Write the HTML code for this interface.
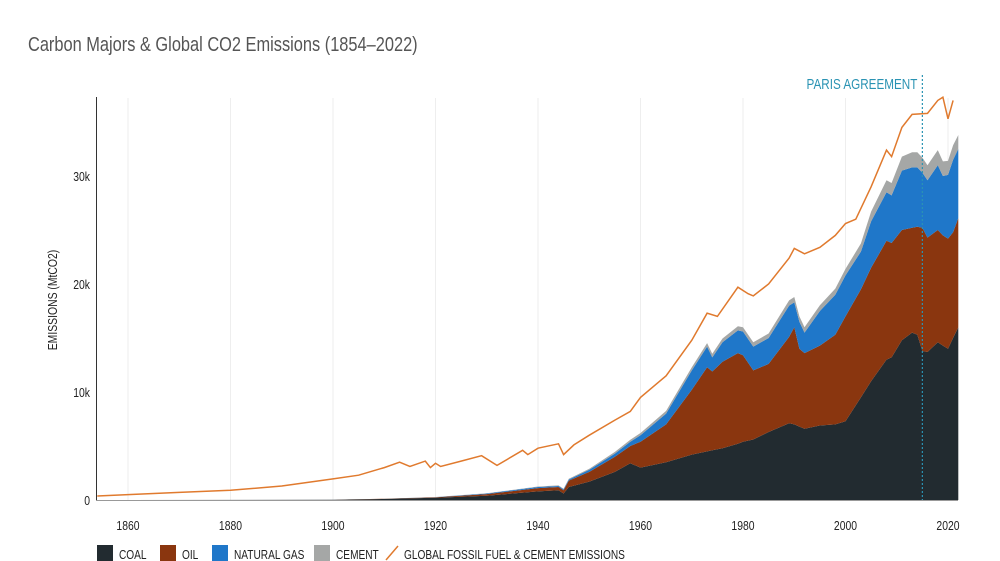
<!DOCTYPE html>
<html><head><meta charset="utf-8"><style>
body{margin:0;background:#fff;}
svg{display:block;font-family:"Liberation Sans",sans-serif;}
</style></head><body>
<svg id="chart" width="1000" height="561" viewBox="0 0 1000 561">
<text x="28" y="51" font-size="20" fill="#555" transform="translate(28,0) scale(0.82,1) translate(-28,0)">Carbon Majors &amp; Global CO2 Emissions (1854–2022)</text>
<g id="grid"></g><g id="areas"></g><g id="lines"></g><g id="axes"></g><g id="legend"></g>
</svg>
<script>
const years=[1854,1900,1910,1920,1930,1940,1944,1945,1946,1950,1955,1958,1960,1965,1970,1973,1974,1976,1979,1980,1982,1985,1989,1990,1991,1992,1995,1998,2000,2003,2005,2008,2009,2011,2013,2014,2015,2016,2018,2019,2020,2021,2022];
const coal=[0,.02,.1,.2,.4,.8,.9,.6,1.2,1.7,2.6,3.4,3.0,3.5,4.2,4.5,4.6,4.8,5.2,5.4,5.6,6.3,7.1,7.0,6.8,6.6,6.9,7.0,7.3,9.5,11.0,13.0,13.2,14.8,15.5,15.3,13.8,13.7,14.6,14.3,14.0,15.0,16.0];
const oil=[0,0,.02,.05,.15,.3,.3,.3,.6,.9,1.4,1.6,2.4,3.5,6.0,7.8,7.3,8.0,8.4,8.0,6.4,6.3,8.0,9.0,7.2,7.0,7.4,8.3,9.7,10.0,10.5,11.0,10.6,10.2,9.7,10.0,11.4,10.6,10.4,10.2,10.2,9.8,10.1];
const gas=[0,0,0,.02,.05,.1,.1,.1,.1,.2,.3,.4,.6,1.0,1.8,1.9,1.3,1.8,2.1,2.2,2.2,2.4,2.9,2.3,2.5,1.9,3.2,3.7,3.8,3.5,4.3,4.5,4.4,5.5,5.6,5.5,5.1,5.3,6.0,5.5,5.9,6.7,6.4];
const cement=[0,0,0,.01,.02,.05,.05,.05,.06,.1,.15,.18,.2,.25,.3,.33,.34,.35,.38,.4,.4,.42,.48,.5,.5,.5,.53,.57,.6,.75,.9,1.1,1.15,1.3,1.4,1.4,1.4,1.4,1.4,1.35,1.3,1.35,1.3];
const globalYears=[1854,1860,1870,1880,1890,1900,1905,1910,1913,1915,1918,1919,1920,1921,1925,1929,1932,1937,1938,1940,1944,1945,1947,1950,1955,1958,1960,1965,1970,1973,1975,1979,1981,1982,1985,1989,1990,1992,1995,1998,2000,2002,2005,2008,2009,2011,2013,2016,2018,2019,2020,2021];
const globalVals=[.37,.5,.7,.9,1.3,1.95,2.3,3.0,3.5,3.1,3.6,3.0,3.4,3.1,3.6,4.1,3.2,4.6,4.2,4.8,5.2,4.2,5.1,6.0,7.4,8.2,9.5,11.5,14.8,17.3,17.0,19.7,19.1,18.9,20.0,22.4,23.3,22.8,23.4,24.5,25.6,26.0,29.0,32.4,31.8,34.5,35.7,35.8,37.0,37.3,35.3,37.0];
const xTicks=[1860,1880,1900,1920,1940,1960,1980,2000,2020];
const yTicks=[0,10,20,30];
const yTickLabels=["0","10k","20k","30k"];
const parisYear=2015;
const NS="http://www.w3.org/2000/svg";
const X=y=>128+(y-1860)*5.125, Y=v=>500-v*10.8;
function mk(tag,attrs,parent){const e=document.createElementNS(NS,tag);for(const k in attrs)e.setAttribute(k,attrs[k]);parent.appendChild(e);return e;}
const grid=document.getElementById('grid'),areas=document.getElementById('areas'),lines=document.getElementById('lines'),axes=document.getElementById('axes'),legend=document.getElementById('legend');
xTicks.forEach(t=>{const l=mk('line',{x1:X(t),x2:X(t),y1:98,y2:500,stroke:'#eee','stroke-width':1},grid);

const tx=mk('text',{x:X(t),y:530,'text-anchor':'middle','font-size':13,fill:'#222',transform:`translate(${X(t)},0) scale(0.8,1) translate(${-X(t)},0)`},axes);tx.textContent=t;
});
yTicks.forEach((t,i)=>{const tx=mk('text',{x:90,y:Y(t)+5,'text-anchor':'end','font-size':13,fill:'#222',transform:`translate(90,0) scale(0.8,1) translate(-90,0)`},axes);tx.textContent=yTickLabels[i];
});
const yt=mk('text',{x:0,y:0,'text-anchor':'middle','font-size':13,fill:'#222',transform:'translate(57,300) rotate(-90) scale(0.8,1)'},axes);yt.textContent='EMISSIONS (MtCO2)';

const series=[coal,oil,gas,cement],colors=['#222b30','#8a360f','#1f77c9','#a5a7a6'],names=['coal-area','oil-area','natural-gas-area','cement-area'];
let base=years.map(()=>0);
series.forEach((s,k)=>{const top=base.map((b,i)=>b+s[i]);
let d='M'+years.map((y,i)=>X(y).toFixed(1)+','+Y(top[i]).toFixed(1)).join('L');
for(let i=years.length-1;i>=0;i--)d+='L'+X(years[i]).toFixed(1)+','+Y(base[i]).toFixed(1);
const p=mk('path',{d:d+'Z',fill:colors[k]},areas);
base=top;});
const gl=mk('path',{d:'M'+globalYears.map((y,i)=>X(y).toFixed(1)+','+Y(globalVals[i]).toFixed(1)).join('L'),fill:'none',stroke:'#e07a2e','stroke-width':1.5},lines);

const pl=mk('line',{x1:X(parisYear),x2:X(parisYear),y1:75,y2:500,stroke:'#2a93b3','stroke-width':1.2,'stroke-dasharray':'2,2'},lines);

const pt=mk('text',{x:X(parisYear)-5,y:89,'text-anchor':'end','font-size':15,fill:'#2a93b3',transform:`translate(${X(parisYear)-5},0) scale(0.78,1) translate(${-(X(parisYear)-5)},0)`},lines);pt.textContent='PARIS AGREEMENT';

const ya=mk('line',{x1:96.5,x2:96.5,y1:97,y2:500,stroke:'#333','stroke-width':1},axes);

const xa=mk('line',{x1:96,x2:958,y1:500.5,y2:500.5,stroke:'#999','stroke-width':1},axes);

const leg=[['COAL','#222b30',97,'legend-coal'],['OIL','#8a360f',160,'legend-oil'],['NATURAL GAS','#1f77c9',212,'legend-natural-gas'],['CEMENT','#a5a7a6',314,'legend-cement']];
leg.forEach(l=>{const r=mk('rect',{x:l[2],y:545,width:16,height:16,fill:l[1]},legend);

const t=mk('text',{x:l[2]+22,y:559,'font-size':13,fill:'#222',transform:`translate(${l[2]+22},0) scale(0.78,1) translate(${-(l[2]+22)},0)`},legend);t.textContent=l[0];
});
const lm=mk('line',{x1:386,y1:560,x2:398,y2:546,stroke:'#e07a2e','stroke-width':1.5},legend);

const lt=mk('text',{x:404,y:559,'font-size':13,fill:'#222',transform:'translate(404,0) scale(0.78,1) translate(-404,0)'},legend);lt.textContent='GLOBAL FOSSIL FUEL & CEMENT EMISSIONS';

</script>
</body></html>
